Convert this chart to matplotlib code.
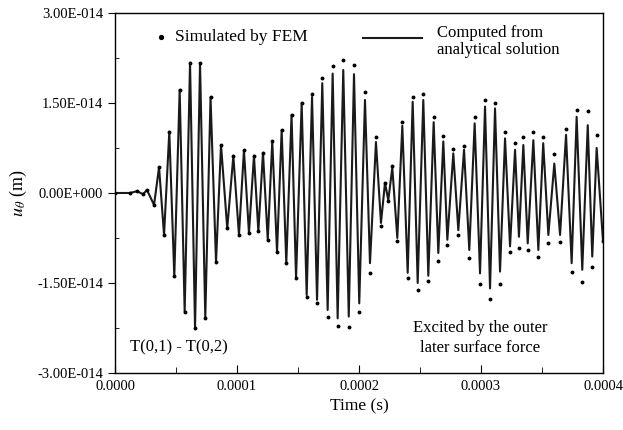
import matplotlib
matplotlib.use("Agg")
import matplotlib.pyplot as plt
import numpy as np
from matplotlib.ticker import FuncFormatter, MultipleLocator

plt.rcParams['font.family'] = ['Liberation Serif', 'DejaVu Serif']
plt.rcParams['mathtext.fontset'] = 'stix'

# extrema of the waveform (time in microseconds, u in 1e-14 m)
time_us = [0, 12.3, 18.0, 23.0, 26.2, 32.0, 36.1, 40.2, 44.5, 48.6, 53.0, 57.1, 61.5, 65.6,
           69.7, 74.0, 78.3, 82.8, 86.9, 92.0, 97.0, 101.6, 105.7, 109.8, 113.9, 117.5, 121.3,
           125.2, 128.9, 132.8, 136.6, 140.4, 144.7, 148.4, 153.0, 157.1, 161.5, 165.6, 169.9,
           174.3, 178.4, 182.5, 187.1, 191.6, 195.9, 200.2, 204.9, 209.0, 213.9, 218.0, 221.3,
           224.0, 227.3, 231.4, 235.5, 239.9, 244.0, 248.1, 252.7, 256.8, 261.2, 265.0, 269.1,
           272.4, 277.3, 281.4, 286.1, 290.4, 294.8, 299.2, 303.3, 307.4, 311.5, 315.6, 319.7,
           323.8, 327.9, 331.1, 334.7, 338.3, 342.9, 347.0, 351.0, 355.2, 360.1, 364.8, 369.7,
           374.3, 378.4, 383.0, 387.5, 391.2, 394.8, 400.0]

# analytical solution (line)
u_analytical = [0, 0, 0.03, -0.02, 0.05, -0.20,
                0.43, -0.70, 1.02, -1.39, 1.72, -1.98, 2.17, -2.25, 2.16, -2.08,
                1.60, -1.15, 0.80, -0.59, 0.62, -0.70, 0.71, -0.67, 0.62, -0.64,
                0.67, -0.78, 0.86, -0.98, 1.05, -1.17, 1.30, -1.42, 1.50, -1.70,
                1.60, -1.78, 1.83, -1.95, 1.99, -2.09, 2.05, -2.06, 1.98, -1.84,
                1.55, -1.17, 0.85, -0.50, 0.17, -0.12, 0.42, -0.75, 1.12, -1.33,
                1.52, -1.50, 1.55, -1.38, 1.18, -1.00, 0.86, -0.78, 0.66, -0.62,
                0.72, -0.95, 1.16, -1.34, 1.44, -1.59, 1.41, -1.31, 0.91, -0.89,
                0.72, -0.73, 0.80, -0.84, 0.88, -0.95, 0.83, -0.70, 0.49, -0.70,
                0.97, -1.17, 1.27, -1.28, 1.13, -1.06, 0.75, -0.80]

# FEM results (dots)
u_fem = [0, 0, 0.03, -0.02, 0.05, -0.20,
         0.43, -0.70, 1.02, -1.39, 1.72, -1.98, 2.17, -2.25, 2.16, -2.08,
         1.60, -1.15, 0.80, -0.59, 0.62, -0.70, 0.71, -0.67, 0.62, -0.64,
         0.67, -0.78, 0.86, -0.98, 1.05, -1.17, 1.30, -1.42, 1.50, -1.73,
         1.65, -1.84, 1.92, -2.06, 2.12, -2.22, 2.22, -2.23, 2.14, -1.98,
         1.69, -1.33, 0.93, -0.55, 0.17, -0.14, 0.45, -0.80, 1.19, -1.42,
         1.60, -1.62, 1.65, -1.47, 1.27, -1.13, 0.95, -0.87, 0.73, -0.70,
         0.79, -1.09, 1.27, -1.51, 1.55, -1.76, 1.50, -1.51, 1.02, -0.98,
         0.83, -0.92, 0.93, -0.95, 1.02, -1.06, 0.93, -0.83, 0.65, -0.81,
         1.06, -1.31, 1.38, -1.48, 1.36, -1.23, 0.97, -0.80]

y_ticks = [-3e-14, -1.5e-14, 0, 1.5e-14, 3e-14]
x_ticks = [0, 0.0001, 0.0002, 0.0003, 0.0004]

t = np.array(time_us) * 1e-6
ua = np.array(u_analytical) * 1e-14
uf = np.array(u_fem) * 1e-14


def sci_fmt(v, pos):
    if v == 0:
        return "0.00E+000"
    exp = int(np.floor(np.log10(abs(v))))
    mant = v / 10 ** exp
    sign = '-' if exp < 0 else '+'
    return "{:.2f}E{}{:03d}".format(mant, sign, abs(exp))


fig = plt.figure(figsize=(6.23, 4.30), dpi=100)
ax = fig.add_axes([0.1846, 0.1326, 0.7833, 0.8372])

ax.plot(t, ua, color='#1a1a1a', lw=1.5, solid_joinstyle='round')
ax.plot(t, uf, ls='none', marker='o', ms=1.8, color='black')

ax.set_xlim(0, 0.0004)
ax.set_ylim(-3e-14, 3e-14)
ax.set_xticks(x_ticks)
ax.set_yticks(y_ticks)
ax.xaxis.set_major_formatter(FuncFormatter(lambda v, p: "{:.4f}".format(v)))
ax.yaxis.set_major_formatter(FuncFormatter(sci_fmt))
ax.xaxis.set_minor_locator(MultipleLocator(0.00005))
ax.yaxis.set_minor_locator(MultipleLocator(0.75e-14))
ax.tick_params(axis='x', which='major', direction='in', length=6, labelsize=10.5, pad=5)
ax.tick_params(axis='x', which='minor', direction='in', length=4)
ax.tick_params(axis='y', which='major', direction='out', length=5, labelsize=10.5)
ax.tick_params(axis='y', which='minor', direction='in', length=3)
for s in ax.spines.values():
    s.set_linewidth(1.0)

ax.set_xlabel('Time (s)', fontsize=12.5, labelpad=4)
ax.set_ylabel(r'$u_{\theta}$ (m)', fontsize=13, labelpad=6)

# legend drawn by hand like the original
ax.plot([0.0000375], [2.6e-14], ls='none', marker='o', ms=2.8, color='black')
ax.text(0.000049, 2.6e-14, 'Simulated by FEM', fontsize=12.5, va='center')
ax.plot([0.000203, 0.000252], [2.58e-14, 2.58e-14], color='#1a1a1a', lw=1.5)
ax.text(0.000264, 2.66e-14, 'Computed from', fontsize=12, va='center')
ax.text(0.000264, 2.38e-14, 'analytical solution', fontsize=12, va='center')

ax.text(0.0000125, -2.58e-14, 'T(0,1) - T(0,2)', fontsize=12, va='center')
ax.text(0.000299, -2.25e-14, 'Excited by the outer', fontsize=12, va='center', ha='center')
ax.text(0.000299, -2.58e-14, 'later surface force', fontsize=12, va='center', ha='center')

fig.savefig('out.png', dpi=100)
